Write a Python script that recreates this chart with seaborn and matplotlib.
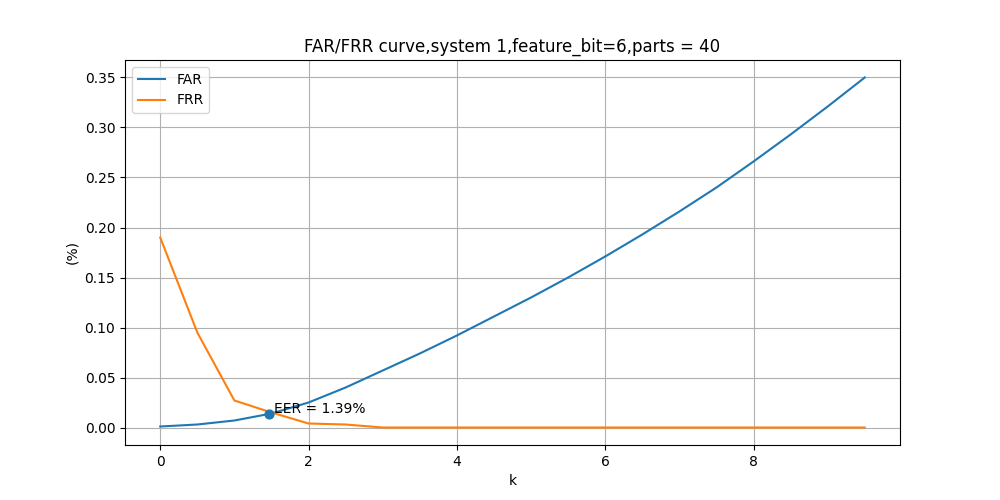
import matplotlib
matplotlib.use("Agg")
import matplotlib.pyplot as plt
import numpy as np
import seaborn as sns

k = np.arange(0, 10, 0.5)
far = [0.001, 0.003, 0.007, 0.014, 0.025, 0.040, 0.057, 0.074, 0.092, 0.111,
       0.130, 0.150, 0.171, 0.193, 0.216, 0.240, 0.266, 0.293, 0.321, 0.350]
frr = [0.190, 0.095, 0.027, 0.015, 0.004, 0.003, 0.0, 0.0, 0.0, 0.0,
       0.0, 0.0, 0.0, 0.0, 0.0, 0.0, 0.0, 0.0, 0.0, 0.0]
eer_k = 1.46
eer = 0.0139

fig, ax = plt.subplots(figsize=(10, 5), dpi=100)
sns.lineplot(x=k, y=far, ax=ax, label="FAR", color="#1f77b4")
sns.lineplot(x=k, y=frr, ax=ax, label="FRR", color="#ff7f0e")
ax.scatter([eer_k], [eer], color="#1f77b4", s=40, zorder=3)
ax.text(eer_k + 0.08, eer + 0.001, f"EER = {eer*100:.2f}%")
ax.set_title("FAR/FRR curve,system 1,feature_bit=6,parts = 40")
ax.set_xlabel("k")
ax.set_ylabel("(%)")
ax.grid(True)
ax.legend(loc="upper left")
fig.savefig("out.png")
